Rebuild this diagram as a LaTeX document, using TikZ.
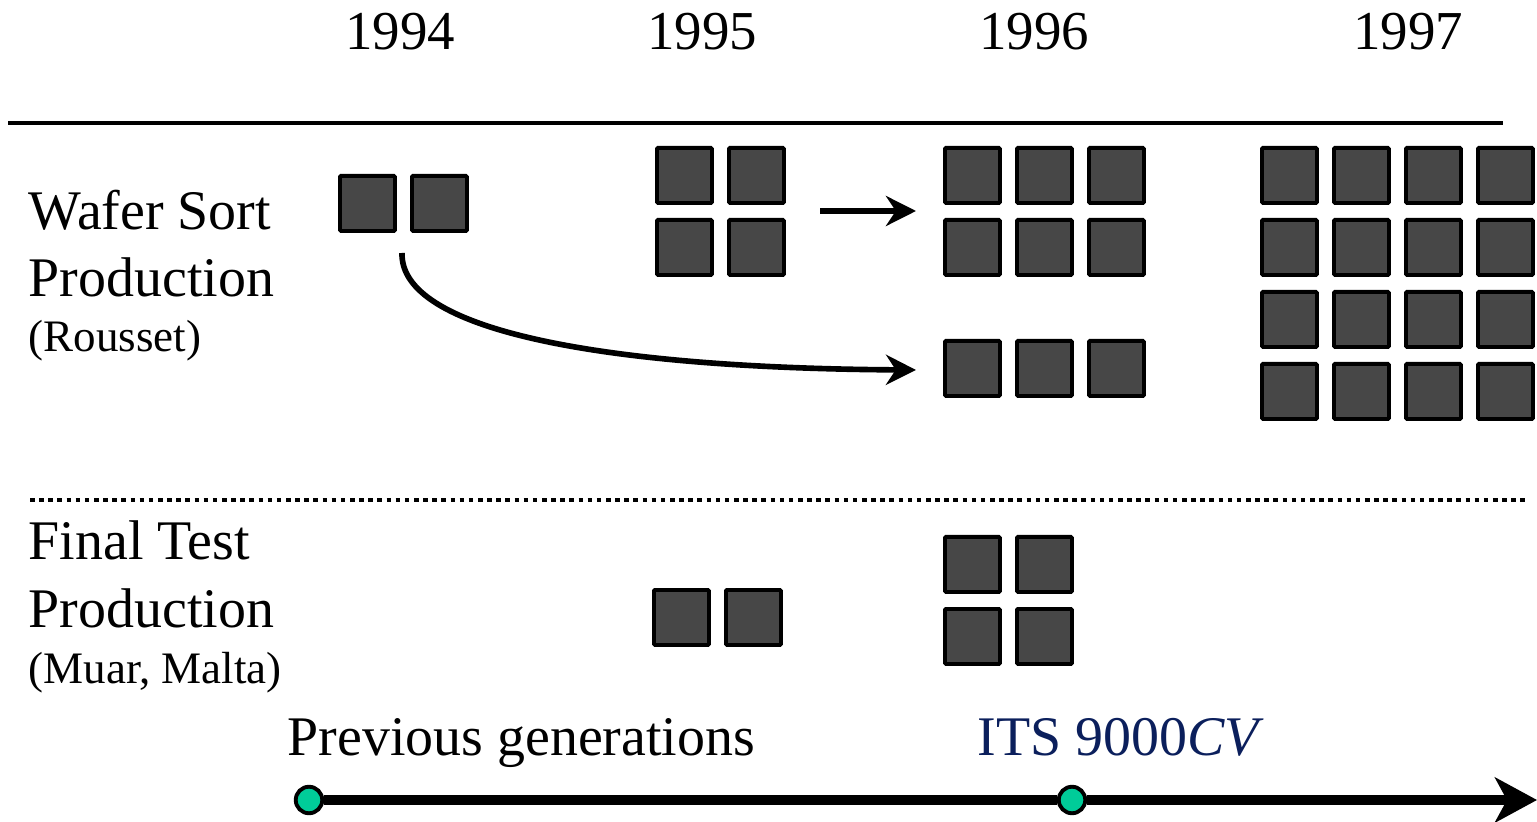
\documentclass[tikz,border=0pt]{standalone}
\usepackage{fontspec}
\setmainfont{Liberation Serif}
\usetikzlibrary{arrows.meta}
\definecolor{sqfill}{HTML}{474747}
\definecolor{dotgreen}{HTML}{00CC99}
\definecolor{navy}{HTML}{0B1F5C}
\begin{document}
\begin{tikzpicture}[x=0.01cm,y=-0.01cm,
  sq/.style={draw=black,fill=sqfill,line width=1.1pt,minimum size=0.55cm,inner sep=0pt,anchor=north west,rounded corners=0.3pt},
  big/.style={font=\fontsize{15.9}{18}\selectfont,inner sep=0pt,anchor=base west},
  small/.style={font=\fontsize{12.8}{14}\selectfont,inner sep=0pt,anchor=base west},
  yr/.style={font=\fontsize{15.6}{18}\selectfont,inner sep=0pt,anchor=base},
  dot/.style={circle,draw=black,line width=1.1pt,fill=dotgreen,minimum size=0.265cm,inner sep=0pt}]
\useasboundingbox (0,0) rectangle (1537,822);
% years
\node[yr] (y94) at (400,50) {1994};
\node[yr] (y95) at (702,50) {1995};
\node[yr] (y96) at (1034,50) {1996};
\node[yr] (y97) at (1408,50) {1997};
\draw[line width=0.9pt] (8,123) -- (1503,123);
% labels
\node[big] (ws1) at (28,230) {Wafer Sort};
\node[big] (ws2) at (28,297) {Production};
\node[small] (ws3) at (28,352) {(Rousset)};
\node[big] (ft1) at (28,560) {Final Test};
\node[big] (ft2) at (28,627) {Production};
\node[small] (ft3) at (28,683) {(Muar, Malta)};
\draw[line width=1.3pt,dash pattern=on 1.3pt off 1.3pt] (30,500) -- (1525,500);
% 1994
\node[sq] (a1) at (338,174) {};
\node[sq] (a2) at (410,174) {};
% 1995 WS
\foreach \i/\x in {1/655,2/727}{
  \node[sq] (b1\i) at (\x,146) {};
  \node[sq] (b2\i) at (\x,218) {};
}
% 1996 WS
\foreach \i/\x in {1/943,2/1015,3/1087}{
  \node[sq] (c1\i) at (\x,146) {};
  \node[sq] (c2\i) at (\x,218) {};
  \node[sq] (c3\i) at (\x,339) {};
}
% 1997
\foreach \i/\x in {1/1260,2/1332,3/1404,4/1476}{
  \foreach \j/\y in {1/146,2/218,3/290,4/362}{
    \node[sq] (d\j\i) at (\x,\y) {};
  }
}
% Final test
\node[sq] (e1) at (652,588) {};
\node[sq] (e2) at (724,588) {};
\foreach \i/\x in {1/943,2/1015}{
  \node[sq] (f1\i) at (\x,535) {};
  \node[sq] (f2\i) at (\x,607) {};
}
% arrows
\coordinate (s1) at (820,211);
\coordinate (t1) at (916,211);
\draw[line width=1.6pt,-{Stealth[length=0.3cm,width=0.3cm]}] (s1) -- (t1);
\coordinate (s2) at (402,253);
\coordinate (t2) at (916,370);
\draw[line width=1.6pt,-{Stealth[length=0.3cm,width=0.3cm]}] (s2) .. controls (400,330) and (600,368) .. (t2);
% bottom
\node[big] (prev) at (287,755) {Previous generations};
\node[big,text=navy] (its) at (977,755) {ITS 9000\textit{CV}};
\node[dot] (p1) at (309,800) {};
\node[dot] (p2) at (1072,800) {};
\coordinate (pend) at (1537,800);
\draw[line width=3.1pt] (p1) -- (p2);
\draw[line width=3.1pt,-{Stealth[length=0.42cm,width=0.45cm,inset=0.12cm]}] (p2) -- (pend);
\end{tikzpicture}
\end{document}
